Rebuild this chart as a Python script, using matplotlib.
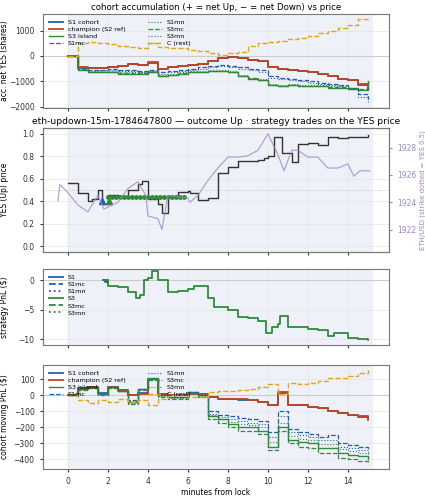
import matplotlib
matplotlib.use("Agg")
import matplotlib.pyplot as plt
import numpy as np

T = [0,0.5,1,1.5,2,2.5,3,3.5,4,4.5,5,5.5,6,6.5,7,7.5,8,8.5,9,9.5,10,10.5,11,11.5,12,12.5,13,13.5,14,14.5,15]

# panel 1: accumulated net YES
acc_champ = [0,-450,-480,-470,-450,-400,-300,-350,-250,-500,-450,-400,-350,-300,-200,-100,-50,-100,-150,-200,-450,-500,-550,-600,-650,-700,-800,-900,-950,-1100,-1350]
acc_s1 = [0,-460,-480,-470,-450,-400,-310,-350,-260,-510,-450,-400,-350,-300,-200,-100,-60,-100,-150,-200,-450,-500,-550,-600,-650,-700,-800,-900,-950,-1130,-1360]
acc_s1mc = [0,-500,-550,-550,-500,-550,-550,-600,-550,-650,-600,-550,-500,-450,-400,-350,-400,-450,-500,-550,-800,-850,-900,-950,-1000,-1050,-1100,-1150,-1250,-1500,-1700]
acc_s1mn = [0,-520,-580,-570,-540,-580,-590,-630,-580,-700,-650,-600,-560,-500,-450,-400,-450,-500,-560,-620,-850,-900,-950,-1000,-1050,-1100,-1150,-1200,-1300,-1600,-1800]
acc_s3 = [0,-550,-650,-650,-650,-700,-700,-700,-650,-800,-750,-700,-650,-650,-600,-600,-650,-800,-900,-950,-1150,-1200,-1150,-1200,-1200,-1200,-1250,-1250,-1300,-1350,-1000]
acc_s3mc = [0,-520,-620,-640,-640,-690,-690,-680,-640,-780,-740,-690,-640,-640,-600,-590,-640,-790,-880,-930,-1130,-1180,-1140,-1180,-1190,-1190,-1230,-1240,-1280,-1300,-1000]
acc_s3mn = [0,-500,-600,-600,-600,-650,-650,-650,-600,-750,-700,-650,-600,-600,-550,-550,-600,-750,-850,-900,-1100,-1150,-1100,-1150,-1150,-1150,-1200,-1200,-1250,-1300,-1050]
acc_c = [0,500,550,500,450,400,350,300,500,350,300,300,250,200,100,50,100,150,400,500,550,600,650,700,800,900,1000,1100,1200,1450,1400]

# panel 2: YES price and ETH
yes_t = [0,0.5,1.0,1.2,1.5,1.7,2.0,2.5,3.0,3.5,3.7,4.0,4.5,4.7,5.0,5.5,6.0,6.1,6.5,7.0,7.5,8.0,8.5,9.0,9.5,9.8,10.0,10.3,10.7,11.2,11.5,12.0,12.5,13.0,13.5,14.0,15.0]
yes_p = [0.56,0.47,0.40,0.42,0.50,0.38,0.46,0.45,0.50,0.55,0.58,0.42,0.38,0.30,0.45,0.48,0.49,0.47,0.41,0.43,0.65,0.70,0.76,0.76,0.77,0.78,0.80,0.97,0.83,0.75,0.91,0.92,0.90,0.97,0.96,0.97,0.99]
eth_t = [-0.5,-0.4,0,0.5,1.0,1.5,1.8,2.5,3.0,3.5,3.9,4.0,4.5,4.7,5.0,6.0,6.1,6.5,7.0,7.5,8.0,8.5,9.0,9.5,10.0,10.5,10.8,11.2,11.5,12.0,12.5,13.0,13.5,14.0,14.3,14.6,15.1]
eth_p = [1924.1,1925.3,1924.7,1923.8,1923.3,1924.5,1923.5,1924.0,1925.0,1925.5,1924.5,1923.0,1922.8,1922.0,1924.5,1924.3,1924.0,1924.5,1925.6,1926.5,1927.3,1927.3,1927.4,1927.8,1929.0,1927.5,1926.3,1927.8,1927.8,1927.3,1927.3,1926.5,1926.5,1926.8,1925.9,1926.3,1926.3]
fill_t = [2.0,2.2,2.4,2.6,2.8,3.0,3.2,3.4,3.6,3.8,4.0,4.2,4.4,4.6,4.8,5.0,5.2,5.4,5.6,5.8]
fill_p = [0.435]*len(fill_t)

# panel 3: strategy PnL
s1_t = [1.75,1.85,1.95,2.0]
s1_pnl = [0,-0.3,0,-0.4]
s3_t = [1.8,2.0,2.5,3.0,3.4,3.6,3.8,4.0,4.2,4.5,5.0,5.5,6.0,6.3,7.0,7.3,8.0,8.5,9.0,9.5,9.9,10.2,10.5,10.6,11.0,12.0,12.5,13.0,13.3,14.0,14.5,15.0]
s3_pnl = [0,-1,-1.2,-2,-3,-2.5,0,0.3,1.5,0,-2,-1.8,-1.5,-1,-3,-4.5,-5,-6.3,-6.5,-7,-9,-8,-7.5,-6,-8,-8.3,-8.5,-9.5,-9,-9.8,-10,-10.2]

# panel 4: cohort moving PnL
pnl_champ = [0,40,50,10,50,30,0,10,100,10,0,5,10,10,-10,-20,-25,-25,-30,-40,-60,20,-60,-60,-70,-80,-100,-110,-120,-130,-155]
pnl_s1 = [0,45,55,12,55,32,0,12,105,10,0,5,12,10,-12,-20,-25,-27,-30,-42,-62,18,-62,-62,-72,-80,-100,-112,-120,-132,-150]
pnl_s3 = [0,40,50,10,50,30,-40,40,110,0,-10,-10,20,0,-130,-150,-180,-200,-200,-220,-320,-200,-280,-290,-300,-330,-330,-360,-370,-380,-400]
pnl_s1mc = [0,40,50,10,50,30,-30,40,100,0,-10,-10,20,0,-100,-120,-130,-140,-150,-160,-230,-100,-210,-230,-240,-260,-250,-300,-310,-320,-340]
pnl_s1mn = [0,40,50,10,50,30,-35,40,105,0,-12,-12,20,0,-115,-135,-150,-160,-170,-180,-260,-130,-230,-250,-260,-280,-280,-320,-330,-340,-360]
pnl_s3mc = [0,35,45,5,45,25,-55,35,100,-10,-20,-20,15,-10,-150,-170,-200,-220,-220,-240,-340,-220,-300,-320,-330,-360,-360,-390,-400,-410,-425]
pnl_s3mn = [0,38,48,8,48,28,-45,38,105,-5,-15,-15,18,-5,-125,-145,-165,-180,-185,-200,-290,-170,-255,-270,-280,-305,-305,-335,-345,-360,-380]
pnl_c = [0,-30,-50,-30,-40,-20,-40,-30,-60,-20,0,0,-10,-10,20,30,30,35,40,55,70,10,80,70,80,90,110,110,120,140,160]

BLUE = "#2160b0"; RED = "#c2441d"; GREEN = "#2e8b3a"; ORANGE = "#e3a514"; PURPLE = "#9d86c4"
plt.rcParams.update({"font.size": 5.5, "axes.labelsize": 5.5, "axes.edgecolor": "#555555",
                     "xtick.color": "#333333", "ytick.color": "#333333",
                     "xtick.major.size": 2.5, "ytick.major.size": 2.5, "axes.labelpad": 2})
fig = plt.figure(figsize=(4.25, 5), dpi=100)
L, W = 0.101, 0.814
ax1 = fig.add_axes([L, 0.784, W, 0.188])
ax2 = fig.add_axes([L, 0.496, W, 0.248], sharex=ax1)
ax3 = fig.add_axes([L, 0.310, W, 0.152], sharex=ax1)
ax4 = fig.add_axes([L, 0.062, W, 0.208], sharex=ax1)

for ax in (ax1, ax2, ax3, ax4):
    ax.axvspan(0, 15.2, color="#eef1f8", zorder=0)
    ax.grid(True, color="#e4e4e4", lw=0.5)
    ax.set_axisbelow(True)
    for s in ax.spines.values():
        s.set_color("#777777")
ax1.set_xlim(-1.25, 16.05)
for ax in (ax1, ax2, ax3):
    plt.setp(ax.get_xticklabels(), visible=False)
ax4.set_xticks([0, 2, 4, 6, 8, 10, 12, 14])

def st(ax, x, y, **kw):
    ax.plot(x, y, drawstyle="steps-post", **kw)

# panel 1
ax1.axhline(0, color="#cccccc", lw=0.8)
st(ax1, T, acc_s1, color=BLUE, lw=1.3, label="S1 cohort")
st(ax1, T, acc_champ, color=RED, lw=1.3, label="champion (S2 ref)")
st(ax1, T, acc_s3, color=GREEN, lw=1.0, label="S3 island")
st(ax1, T, acc_s1mc, color=BLUE, lw=0.9, ls="--", label="S1mc")
st(ax1, T, acc_s1mn, color=BLUE, lw=0.8, ls=":", label="S1mn")
st(ax1, T, acc_s3mc, color=GREEN, lw=0.9, ls="--", label="S3mc")
st(ax1, T, acc_s3mn, color=GREEN, lw=0.8, ls=":", label="S3mn")
st(ax1, T, acc_c, color=ORANGE, lw=1.0, ls="--", label="C (rest)")
ax1.set_ylim(-2050, 1650)
ax1.set_yticks([-2000, -1000, 0, 1000])
ax1.set_ylabel("acc. net YES (shares)")
ax1.set_title("cohort accumulation (+ = net Up, − = net Down) vs price", fontsize=6.2, pad=3)
ax1.legend(loc="upper left", ncol=2, fontsize=4.6, frameon=False, handlelength=2.2, labelspacing=0.25, columnspacing=3.5)

# panel 2
ax2.axhline(0.5, color="#bbbbbb", lw=0.6, ls=":")
st(ax2, yes_t, yes_p, color="#333333", lw=1.0, zorder=3)
ax2.plot(fill_t, fill_p, ls="none", marker="o", ms=2.5, color=GREEN, zorder=4)
ax2.plot([1.7], [0.40], ls="none", marker="^", ms=5, color=BLUE, zorder=5)
ax2.plot([2.05], [0.40], ls="none", marker="^", ms=5, color=GREEN, zorder=5)
ax2.set_ylim(-0.05, 1.05)
ax2.set_yticks([0, 0.2, 0.4, 0.6, 0.8, 1.0])
ax2.set_ylabel("YES (Up) price")
ax2.set_title("eth-updown-15m-1784647800 — outcome Up · strategy trades on the YES price", fontsize=6.6, pad=3)
axr = ax2.twinx()
axr.plot(eth_t, eth_p, color=PURPLE, lw=0.9, alpha=0.75)
axr.set_ylim(1920.36, 1929.43)
axr.set_yticks([1922, 1924, 1926, 1928])
axr.tick_params(colors=PURPLE)
axr.set_ylabel("ETH/USD (strike dotted = YES 0.5)", color=PURPLE, fontsize=5)
for s in axr.spines.values():
    s.set_color("#777777")

# panel 3
ax3.axhline(0, color="#cccccc", lw=0.8)
ax3.plot(s1_t, s1_pnl, drawstyle="steps-post", color=BLUE, lw=1.3, label="S1")
ax3.plot([], [], color=BLUE, ls="--", lw=1.3, label="S1mc")
ax3.plot([], [], color=BLUE, ls=":", lw=1.3, label="S1mn")
ax3.plot(s3_t, s3_pnl, drawstyle="steps-post", color=GREEN, lw=1.3, label="S3")
ax3.plot([], [], color=GREEN, ls="--", lw=1.3, label="S3mc")
ax3.plot([], [], color=GREEN, ls=":", lw=1.3, label="S3mn")
ax3.set_ylim(-11, 1.9)
ax3.set_yticks([-10, -5, 0])
ax3.set_ylabel("strategy PnL ($)")
ax3.legend(loc="upper left", fontsize=4.6, frameon=False, handlelength=2.2, labelspacing=0.25)

# panel 4
ax4.axhline(0, color="#cccccc", lw=0.8)
st(ax4, T, pnl_s1, color=BLUE, lw=1.3, label="S1 cohort")
st(ax4, T, pnl_champ, color=RED, lw=1.3, label="champion (S2 ref)")
st(ax4, T, pnl_s3, color=GREEN, lw=1.0, label="S3 island")
st(ax4, T, pnl_s1mc, color=BLUE, lw=0.9, ls="--", label="S1mc")
st(ax4, T, pnl_s1mn, color=BLUE, lw=0.8, ls=":", label="S1mn")
st(ax4, T, pnl_s3mc, color=GREEN, lw=0.9, ls="--", label="S3mc")
st(ax4, T, pnl_s3mn, color=GREEN, lw=0.8, ls=":", label="S3mn")
st(ax4, T, pnl_c, color=ORANGE, lw=1.0, ls="--", label="C (rest)")
ax4.set_ylim(-460, 190)
ax4.set_yticks([-400, -300, -200, -100, 0, 100])
ax4.set_ylabel("cohort moving PnL ($)")
ax4.set_xlabel("minutes from lock", labelpad=1)
ax4.legend(loc="upper left", ncol=2, fontsize=4.6, frameon=False, handlelength=2.2, labelspacing=0.25, columnspacing=3.5)

for ax in (ax1, ax2, ax3, ax4):
    ax.yaxis.set_label_coords(-0.098, 0.5)

fig.savefig("out.png", dpi=100)
